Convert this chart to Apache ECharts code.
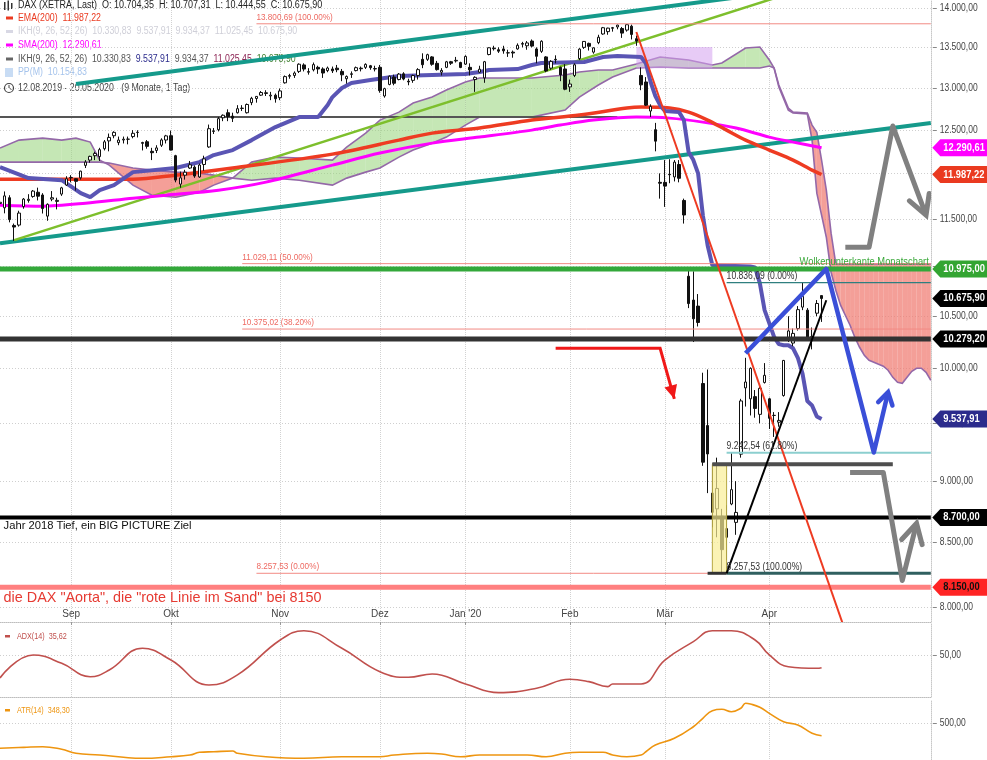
<!DOCTYPE html>
<html><head><meta charset="utf-8">
<script src="https://cdn.jsdelivr.net/npm/echarts@6/dist/echarts.min.js"></script>
<style>html,body{margin:0;padding:0;background:#fff}#c{width:987px;height:760px}</style>
</head><body><div id="c"></div>
<script>
const FONT = '"Liberation Sans", Arial, Helvetica, sans-serif';

// ---------- categories (XETRA trading days) ----------
const holidays = ['2019-12-24','2019-12-25','2019-12-26','2019-12-31','2020-01-01','2020-04-10','2020-04-13','2020-05-01'];
const dates = [];
for (let t = Date.UTC(2019,7,12); t <= Date.UTC(2020,4,22); t += 864e5) {
  const d = new Date(t), wd = d.getUTCDay(), s = d.toISOString().slice(0,10);
  if (wd === 0 || wd === 6 || holidays.includes(s)) continue;
  dates.push(s);
}
const X = s => dates.indexOf(s);
const monthTicks = {'2019-09-02':'Sep','2019-10-01':'Okt','2019-11-01':'Nov','2019-12-02':'Dez','2020-01-02':"Jan '20",'2020-02-03':'Feb','2020-03-02':'Mär','2020-04-01':'Apr'};
const priceTicks = [8000,8500,9000,9500,10000,10500,11000,11500,12000,12500,13000,13500,14000];
const adxTicks = [50];
const atrTicks = [500];

// ---------- DAX daily OHLC [open, high, low, close] from 2019-08-12 ----------
const ohlc = [
[11667,11704,11618,11680],[11620,11799,11560,11750],[11730,11757,11463,11493],[11430,11450,11266,11413],[11434,11588,11418,11563],
[11633,11727,11610,11715],[11700,11769,11676,11713],[11744,11815,11730,11803],[11790,11841,11700,11747],[11760,11780,11558,11612],
[11530,11668,11480,11658],[11715,11803,11692,11730],[11690,11730,11603,11701],[11770,11850,11750,11839],[11870,11968,11860,11939],
[11950,11980,11900,11954],[11940,11945,11809,11911],[11950,12030,11930,12025],[12090,12150,12060,12127],[12150,12200,12120,12192],
[12200,12245,12150,12226],[12190,12290,12140,12269],[12280,12380,12260,12359],[12370,12455,12250,12410],[12430,12482,12400,12469],
[12350,12420,12320,12380],[12380,12420,12340,12390],[12390,12420,12330,12389],[12420,12495,12400,12458],[12470,12494,12410,12468],
[12350,12360,12260,12342],[12360,12380,12280,12307],[12250,12290,12150,12234],[12260,12320,12230,12289],[12320,12400,12300,12381],
[12380,12440,12340,12428],
[12430,12490,12260,12264],[12200,12210,11900,11925],[11880,12020,11840,11950],[11980,12040,11930,12013],
[12060,12140,12050,12097],[12070,12090,11950,11970],[11960,12110,11950,12094],[12100,12200,12030,12164],[12300,12560,12290,12512],
[12480,12520,12450,12487],[12500,12650,12480,12630],[12640,12680,12600,12670],[12700,12740,12600,12655],[12660,12700,12590,12634],
[12700,12790,12690,12748],[12750,12790,12720,12755],[12700,12810,12690,12798],[12820,12890,12790,12872],[12870,12900,12820,12895],
[12910,12960,12900,12942],[12930,12970,12900,12940],[12900,12950,12850,12910],[12910,12930,12820,12867],
[12880,12990,12850,12961],
[13060,13150,13050,13136],[13140,13170,13110,13149],[13150,13200,13120,13180],[13200,13300,13180,13289],[13280,13300,13200,13229],
[13190,13240,13160,13198],[13220,13310,13200,13284],[13250,13270,13170,13230],[13230,13250,13120,13180],[13210,13260,13190,13242],
[13230,13260,13180,13207],[13240,13280,13190,13221],[13200,13230,13080,13158],[13110,13150,13050,13138],[13170,13200,13120,13164],
[13210,13260,13200,13246],[13240,13260,13200,13233],[13250,13300,13230,13287],[13270,13280,13220,13246],[13230,13270,13200,13236],
[13250,13280,12940,12965],[12900,13000,12880,12989],[13040,13150,13030,13141],[13130,13160,13030,13055],[13100,13180,13090,13167],
[13170,13190,13090,13106],[13080,13110,13030,13071],[13090,13160,13060,13149],[13150,13240,13100,13222],[13350,13425,13240,13283],
[13350,13420,13330,13408],[13380,13390,13270,13288],[13300,13330,13210,13222],[13190,13240,13150,13212],[13250,13330,13240,13319],
[13320,13330,13280,13301],[13330,13380,13310,13337],[13310,13320,13240,13249],
[13290,13400,13280,13386],[13250,13300,13150,13219],
[13100,13140,12950,13127],[13190,13270,13180,13227],[13120,13330,13060,13320],[13410,13500,13400,13495],[13490,13520,13460,13483],
[13470,13500,13430,13452],[13480,13520,13420,13456],[13430,13470,13380,13432],[13440,13460,13370,13429],[13480,13550,13470,13526],
[13540,13570,13500,13549],[13520,13580,13470,13556],[13580,13600,13500,13516],[13480,13500,13300,13388],[13450,13590,13430,13577],
[13380,13390,13190,13205],[13240,13340,13220,13324],[13350,13400,13300,13345],[13250,13260,13080,13157],[13230,13290,12970,12982],
[13010,13100,12950,13045],[13150,13300,13130,13282],[13360,13490,13340,13478],[13500,13580,13480,13575],[13550,13560,13460,13514],
[13440,13500,13420,13494],[13560,13660,13540,13628],[13670,13760,13660,13750],[13700,13750,13660,13745],[13750,13760,13700,13744],
[13760,13790,13730,13784],[13740,13760,13620,13681],[13720,13795,13700,13789],[13770,13790,13600,13664],[13610,13650,13520,13579],
[13150,13250,12970,13035],[13070,13130,12780,12790],[12720,12800,12650,12775],[12500,12580,12250,12367],[11900,12000,11720,11890],
[11900,12150,11630,11858],[11990,12160,11890,11985],[11960,12150,11910,12127],[12100,12150,11900,11945],[11700,11720,11450,11542],
[10900,10990,10580,10625],[10660,10950,10250,10475],[10600,10720,10400,10439],[9860,9960,9130,9161],[9480,9990,8900,9232],
[8900,9150,8620,8742],[8770,9200,8540,8939],[8710,8770,8256,8442],[8540,8800,8360,8610],[8810,9240,8800,8929],
[8660,9000,8560,8741],[9230,9720,9200,9701],[9820,10100,9650,9874],[9720,10010,9570,10001],[9740,9800,9550,9633],
[9580,9830,9500,9816],[9870,10050,9860,9936],
[9720,9730,9450,9545],[9570,9600,9380,9571],[9510,9600,9470,9526],[9750,10080,9740,10075],
[10270,10500,10250,10357],[10240,10380,10210,10333],[10380,10600,10360,10565],[10590,10836,10560,10697],[10560,10580,10270,10280],
[10270,10390,10180,10302],[10530,10660,10500,10626],[10704.35,10707.31,10444.55,10675.90]
];

// ---------- indicators ----------
const ema200 = [['2019-08-12',11935],['2019-09-19',11935],['2019-10-02',11980],['2019-10-18',12060],['2019-11-18',12218],['2019-12-06',12379],
['2019-12-17',12460],['2020-01-07',12519],['2020-01-22',12613],['2020-02-05',12672],['2020-02-19',12755],['2020-02-24',12767],['2020-03-03',12755],
['2020-03-09',12707],['2020-03-13',12613],['2020-03-19',12495],['2020-03-25',12379],['2020-04-01',12264],['2020-04-08',12150],['2020-04-16',12037],['2020-04-20',11987.22]];
const sma200 = [['2019-08-12',11649],['2019-08-23',11638],['2019-09-05',11670],['2019-09-19',11725],['2019-09-30',11758],['2019-10-15',11813],
['2019-10-29',11902],['2019-11-18',12093],['2019-12-02',12230],['2019-12-17',12344],['2020-01-07',12414],['2020-01-22',12495],['2020-01-30',12554],
['2020-02-10',12613],['2020-02-21',12648],['2020-03-03',12636],['2020-03-12',12589],['2020-03-23',12519],['2020-04-01',12414],['2020-04-08',12356],['2020-04-20',12290.61]];
const kijun = [['2019-08-12',12070],['2019-08-20',11947],['2019-08-29',11924],['2019-09-04',11780],['2019-09-06',11736],['2019-09-10',11813],
['2019-09-13',11869],['2019-09-19',12014],['2019-10-02',12060],['2019-10-09',12127],['2019-10-14',12207],['2019-10-18',12264],['2019-10-24',12379],
['2019-10-31',12531],['2019-11-07',12648],['2019-11-13',12648],['2019-11-15',12791],['2019-11-18',12887],['2019-11-20',12997],['2019-11-22',13058],
['2019-11-28',13094],['2019-12-06',13143],['2019-12-17',13155],['2020-01-02',13167],['2020-01-07',13192],['2020-01-09',13217],['2020-01-17',13229],
['2020-01-22',13279],['2020-01-24',13304],['2020-02-06',13316],['2020-02-12',13379],['2020-02-17',13391],['2020-02-24',13379],['2020-02-25',13300],
['2020-02-26',13070],['2020-02-27',12900],['2020-02-28',12790],['2020-03-02',12720],['2020-03-05',12707],['2020-03-06',12613],['2020-03-09',12241],
['2020-03-10',12150],['2020-03-11',12000],['2020-03-12',11540],['2020-03-13',11221],['2020-03-16',11013],['2020-03-26',11000],['2020-03-27',10990],
['2020-03-30',10830],['2020-03-31',10560],['2020-04-01',10430],['2020-04-02',10300],['2020-04-03',10230],['2020-04-06',10219],['2020-04-07',10219],
['2020-04-08',10190],['2020-04-09',10100],['2020-04-14',9950],['2020-04-15',9700],['2020-04-16',9660],['2020-04-17',9560],['2020-04-20',9537.91]];
// Ichimoku cloud: [date, Senkou A, Senkou B]
const cloud = [['2019-08-12',12287,12127],['2019-08-16',12379,12127],['2019-08-23',12402,12127],['2019-08-29',12379,12127],['2019-09-03',12402,12127],
['2019-09-06',12356,12127],['2019-09-10',12150,12127],['2019-09-12',12093,12116],['2019-09-19',11869,12060],['2019-09-25',11758,12037],
['2019-10-02',11736,12014],['2019-10-09',11791,12003],['2019-10-14',11869,11980],['2019-10-18',11947,11947],['2019-10-24',12127,11924],
['2019-10-31',12184,11947],['2019-11-07',12173,11924],['2019-11-18',12150,11869],['2019-11-21',12298,11947],['2019-11-27',12460,12014],
['2019-12-02',12613,12060],['2019-12-06',12707,12184],['2019-12-11',12815,12264],['2019-12-17',12887,12344],['2019-12-20',12972,12414],
['2020-01-02',13070,12554],['2020-01-07',13118,12648],['2020-01-22',13118,12648],['2020-01-31',13155,12731],['2020-02-05',13192,12887],
['2020-02-11',13217,13033],['2020-02-14',13217,13130],['2020-02-21',13291,13242],['2020-02-28',13379,13254],['2020-03-09',13341,13242],
['2020-03-16',13279,13242],['2020-03-18',13304,13242],['2020-03-25',13492,13242],['2020-03-30',13505,13242],['2020-04-01',13341,13266],
['2020-04-02',13242,13242],['2020-04-03',13009,13033],['2020-04-07',12731,12755],['2020-04-08',12696,12707],['2020-04-15',12684,12696],
['2020-04-16',12379,12554],['2020-04-17',11780,12471],['2020-04-20',11540,12150],['2020-04-21',11305,11813],['2020-04-22',10941,11348],
['2020-04-23',10758,11025.45],['2020-04-24',10609,11025.45],['2020-04-27',10510,11025.45],['2020-04-28',10412,11025.45],['2020-04-29',10296,11025.45],
['2020-04-30',10200,11025.45],['2020-05-04',10124,11025.45],['2020-05-05',10077,11025.45],['2020-05-06',10058,11025.45],['2020-05-07',10040,11025.45],
['2020-05-08',10021,11025.45],['2020-05-11',9983,11025.45],['2020-05-12',9917,11025.45],['2020-05-13',9871,11025.45],['2020-05-14',9862,11025.45],
['2020-05-15',9917,11025.45],['2020-05-18',9973,11025.45],['2020-05-19',10002,11025.45],['2020-05-20',10002,11025.45],['2020-05-21',9964,11025.45],['2020-05-22',9890,11025.45]];
const adx = [['2019-08-12',24.0],['2019-08-21',50],['2019-08-29',40.6],['2019-09-06',25.4],['2019-09-12',33.0],['2019-09-23',57.6],['2019-10-01',44.3],
['2019-10-11',16.0],['2019-10-21',27.4],['2019-11-01',67.0],['2019-11-08',77.5],['2019-11-20',57.6],['2019-12-02',31.1],['2019-12-10',24.7],
['2019-12-17',28.5],['2020-01-02',17.2],['2020-01-13',7.3],['2020-01-23',12.3],['2020-02-03',22.5],['2020-02-07',19.8],['2020-02-13',14.1],
['2020-02-14',17.2],['2020-02-24',17.2],['2020-03-02',44.3],['2020-03-10',65.1],['2020-03-16',77.5],['2020-03-20',77.5],['2020-03-27',67.0],
['2020-04-01',50],['2020-04-07',36.7],['2020-04-17',34.9],['2020-04-20',35.62]];
const atr = [['2019-08-12',194],['2019-08-19',206],['2019-08-23',214],['2019-08-29',182],['2019-09-03',133],['2019-09-10',112],['2019-09-18',79],
['2019-09-23',72],['2019-10-01',91],['2019-10-07',112],['2019-10-09',145],['2019-10-14',152],['2019-10-18',161],['2019-10-21',133],['2019-10-29',91],
['2019-11-08',72],['2019-11-20',91],['2019-12-02',91],['2019-12-05',112],['2019-12-16',133],['2019-12-19',124],['2019-12-30',91],['2020-01-07',112],
['2020-01-14',112],['2020-01-21',112],['2020-01-27',91],['2020-01-31',133],['2020-02-05',145],['2020-02-12',145],['2020-02-14',112],['2020-02-19',91],
['2020-02-24',112],['2020-02-25',152],['2020-02-27',234],['2020-03-04',316],['2020-03-10',458],['2020-03-12',561],['2020-03-16',654],['2020-03-18',671],
['2020-03-20',642],['2020-03-24',684],['2020-03-25',745],['2020-03-26',736],['2020-03-30',696],['2020-04-01',622],['2020-04-06',520],['2020-04-09',479],
['2020-04-16',378],['2020-04-20',348.3]];

// ---------- drawn levels / annotations ----------
const fibA = [[13800.69,'100.00%','2019-10-25'],[11029.11,'50.00%','2019-10-22'],[10375.02,'38.20%','2019-10-22'],[8257.53,'0.00%','2019-10-25']];
const fibB = [[10836.09,'0.00%'],[9242.54,'61.80%'],[8257.53,'100.00%']];
const fibBStart = '2020-03-19';
const lvlCloudMonth = 10975, lvlSupport = 10279.2, lvl2018 = 8700, lvlAorta = 8150, lvlOld = 12648, lvlBox = 9143;
const tealUpper = [['2019-09-03',13045],['2020-05-22',14486]];
const tealLower = [['2019-08-12',11242],['2020-05-22',12578]];
const greenTrend = [['2019-08-15',11274],['2020-05-22',14808]];
const redTrend = [['2020-02-21',13695],['2020-04-27',7823]];
const blackTrend = [['2020-03-19',8257.53],['2020-04-21',10658]];
const blueArrow = [['2020-03-25',10143],['2020-04-21',10975],['2020-05-06',9244],['2020-05-11',9780]];
const grayArrowUp = [['2020-04-27',11200],['2020-05-05',11200],['2020-05-12',12543],['2020-05-21',11540]];
const grayArrowDn = [['2020-04-28',9074],['2020-05-08',9074],['2020-05-14',8202],['2020-05-19',8652]];
const redArrow = [['2020-01-29',10190],['2020-02-28',10190],['2020-03-04',9720]];
const tags = [[12290.61,'#ff00ff','#fff'],[11987.22,'#ea3a20','#fff'],[10975,'#33a532','#fff'],[10675.90,'#000','#fff'],
[10279.20,'#000','#fff'],[9537.91,'#2b2b8c','#fff'],[8700,'#000','#fff'],[8150,'#ff2424','#111']];

// ---------- helpers ----------
function de(v){ const [a,b] = v.toFixed(2).split('.'); return a.replace(/\B(?=(\d{3})+(?!\d))/g,'.') + ',' + b; }
const isMonth = (i, v) => monthTicks[v] !== undefined;

function poly(pts, color, width, o){
  o = o || {};
  const P = pts.map(p => [X(p[0]), p[1]]);
  return {type:'custom', xAxisIndex:0, yAxisIndex:0, silent:true, clip:o.clip !== false, z:o.z || 5,
    data:P, encode:{x:0, y:1},
    renderItem(params, api){
      if (params.dataIndex !== 0) return null;
      const C = P.map(p => api.coord(p));
      const ch = [{type:'polyline', shape:{points:C}, style:{stroke:color, lineWidth:width, fill:null, lineJoin:o.join || 'round', lineCap:'butt'}}];
      if (o.arrow){
        const a = C[C.length-2], b = C[C.length-1];
        const ang = Math.atan2(b[1]-a[1], b[0]-a[0]);
        const L = o.alen || 16, s = o.aspread || 0.5;
        const w1 = [b[0]-L*Math.cos(ang-s), b[1]-L*Math.sin(ang-s)];
        const w2 = [b[0]-L*Math.cos(ang+s), b[1]-L*Math.sin(ang+s)];
        if (o.arrow === 'filled') ch.push({type:'polygon', shape:{points:[w1,b,w2]}, style:{fill:color}});
        else ch.push({type:'polyline', shape:{points:[w1,b,w2]}, style:{stroke:color, lineWidth:width, fill:null, lineJoin:'miter', lineCap:'round'}});
      }
      return {type:'group', children:ch};
    }};
}
function label(d, p, text, o){
  const pt = [X(d), p];
  return {type:'custom', xAxisIndex:0, yAxisIndex:0, silent:true, clip:false, z:o.z || 7, data:[pt], encode:{x:0, y:1},
    renderItem(params, api){
      const c = api.coord(pt);
      return {type:'text', x:c[0]+(o.dx||0), y:c[1]+(o.dy||0), scaleX:o.sx || 1,
        style:{text, fill:o.color || '#333', font:o.font, align:o.align || 'left', verticalAlign:o.va || 'middle'}};
    }};
}
function rect(d0, d1, p0, p1, fill, stroke, z){
  const a = [X(d0), p0], b = [X(d1), p1];
  return {type:'custom', xAxisIndex:0, yAxisIndex:0, silent:true, clip:true, z:z || 5, data:[a,b], encode:{x:0, y:1},
    renderItem(params, api){
      if (params.dataIndex !== 0) return null;
      const A = api.coord(a), B = api.coord(b);
      return {type:'rect', shape:{x:Math.min(A[0],B[0]), y:Math.min(A[1],B[1]), width:Math.abs(B[0]-A[0]), height:Math.abs(B[1]-A[1])},
        style:{fill, stroke:stroke || null, lineWidth:1}};
    }};
}
function ticks(ai, values){
  return {type:'custom', xAxisIndex:ai, yAxisIndex:ai, silent:true, clip:false, z:1,
    data:values.map(v => [0, v]), encode:{x:0, y:1},
    renderItem(params, api){
      const cs = params.coordSys, v = api.value(1);
      const y = Math.round(api.coord([0, v])[1]) + 0.5, r = cs.x + cs.width;
      return {type:'group', children:[
        {type:'line', shape:{x1:cs.x, y1:y, x2:r, y2:y}, style:{stroke:'#cfcfcf', lineWidth:1, lineDash:[1,2]}},
        {type:'line', shape:{x1:r+2, y1:y, x2:r+6, y2:y}, style:{stroke:'#888', lineWidth:1}},
        {type:'text', x:r+9, y:y, scaleX:0.85, style:{text:de(v), fill:'#444', font:'10px '+FONT, align:'left', verticalAlign:'middle'}}
      ]};
    }};
}

// ---------- series ----------
const series = [];
series.push(ticks(0, priceTicks), ticks(1, adxTicks), ticks(2, atrTicks));

// cloud
const cloudPts = cloud.map(c => [X(c[0]), c[1], c[2]]);
series.push({type:'custom', xAxisIndex:0, yAxisIndex:0, silent:true, clip:true, z:2, data:cloudPts, encode:{x:0, y:[1,2]},
  renderItem(params, api){
    if (params.dataIndex !== 0) return null;
    const A = cloudPts.map(c => api.coord([c[0], c[1]])), B = cloudPts.map(c => api.coord([c[0], c[2]]));
    const G = 'rgba(150,212,120,0.55)', R = 'rgba(240,118,108,0.7)';
    const ch = [];
    for (let k = 0; k < A.length-1; k++){
      const d0 = B[k][1]-A[k][1], d1 = B[k+1][1]-A[k+1][1];
      if (d0*d1 < 0){
        const t = d0/(d0-d1);
        const m = [A[k][0]+(A[k+1][0]-A[k][0])*t, A[k][1]+(A[k+1][1]-A[k][1])*t];
        ch.push({type:'polygon', shape:{points:[A[k], m, B[k]]}, style:{fill:d0 > 0 ? G : R}});
        ch.push({type:'polygon', shape:{points:[m, A[k+1], B[k+1]]}, style:{fill:d1 > 0 ? G : R}});
      } else if (d0 !== 0 || d1 !== 0){
        ch.push({type:'polygon', shape:{points:[A[k], A[k+1], B[k+1], B[k]]}, style:{fill:(d0+d1) > 0 ? G : R}});
      }
    }
    ch.push({type:'polyline', shape:{points:A}, style:{stroke:'#9468a8', lineWidth:1.6, fill:null}});
    ch.push({type:'polyline', shape:{points:B}, style:{stroke:'#9468a8', lineWidth:1.6, fill:null}});
    return {type:'group', children:ch};
  }});

// lavender box and thin old line
series.push(rect('2020-02-21','2020-03-16',13240,13505,'rgba(212,160,238,0.55)',null,3));
series.push(poly([['2019-08-12',lvlOld],['2020-02-17',lvlOld]], '#555', 2, {z:3}));

// moving averages and kijun
const lineS = (arr, color, width, smooth, z) => ({type:'line', xAxisIndex:0, yAxisIndex:0, data:arr.map(a => [X(a[0]), a[1]]),
  symbol:'none', smooth:smooth, silent:true, z:z, lineStyle:{color, width}});
series.push(lineS(sma200, '#ff00ff', 3, 0.3, 3));
series.push(lineS(ema200, '#ee3b22', 3.5, 0.3, 3));
series.push(lineS(kijun, '#5a55b4', 4, false, 3));

// trendlines
series.push(poly(tealUpper, '#159a8b', 4, {z:3}));
series.push(poly(tealLower, '#159a8b', 4, {z:3}));
series.push(poly(greenTrend, '#7dbf2c', 2.5, {z:3}));

// candles
series.push({type:'candlestick', xAxisIndex:0, yAxisIndex:0, z:4, silent:true, barWidth:3,
  data:ohlc.map(r => [r[0], r[3], r[2], r[1]]),
  itemStyle:{color:'#ffffff', color0:'#111111', borderColor:'#111111', borderColor0:'#111111', borderWidth:1}});

// horizontal levels
const full = p => [[dates[0], p], [dates[dates.length-1], p]];
series.push(poly(full(lvlCloudMonth), '#33a83a', 5, {z:5}));
series.push(poly(full(lvlSupport), '#333333', 5, {z:5}));
series.push(poly(full(lvl2018), '#000000', 4, {z:5}));
series.push(poly(full(lvlAorta), '#ff8080', 5, {z:5}));

// fibonacci set A
fibA.forEach(f => {
  series.push(poly([[f[2], f[0]], [dates[dates.length-1], f[0]]], '#f28a84', 1, {z:5}));
  series.push(label(f[2], f[0], de(f[0]) + ' (' + f[1] + ')', {dy:-6.5, color:'#ee6a62', font:'9.5px '+FONT, sx:0.86}));
});
// box
series.push(rect('2020-03-16','2020-03-19',8257.53,lvlBox,'rgba(250,238,150,0.7)','#b7a843',5));
series.push(poly([['2020-03-16',lvlBox],['2020-05-12',lvlBox]], '#4e4e4e', 4, {z:5}));
series.push(poly([['2020-03-13',8257.53],[fibBStart,8257.53]], '#333', 3, {z:5}));
// fibonacci set B
const fibBStyle = [['#2f7f7f',1.2],['#8ccfcf',2],['#2f5f5f',3]];
fibB.forEach((f, k) => {
  series.push(poly([[fibBStart, f[0]], [dates[dates.length-1], f[0]]], fibBStyle[k][0], fibBStyle[k][1], {z:5}));
  series.push(label(fibBStart, f[0], de(f[0]) + ' (' + f[1] + ')', {dy:-6.5, color:'#333', font:'10px '+FONT, sx:0.86}));
});

// red trend & black trend
series.push(poly(redTrend, '#ee3b22', 2, {z:6}));
series.push(poly(blackTrend, '#000', 2, {z:6}));
// arrows
series.push(poly(redArrow, '#f01818', 3, {z:6, arrow:'filled', alen:15, aspread:0.45, join:'miter'}));
series.push(poly(blueArrow, '#3a4fd8', 4.5, {z:6, arrow:'open', alen:14, aspread:0.55}));
series.push(poly(grayArrowUp, '#808080', 5, {z:6, arrow:'open', alen:22, aspread:0.5}));
series.push(poly(grayArrowDn, '#808080', 5, {z:6, arrow:'open', alen:22, aspread:0.5}));

// annotation texts
series.push(label(dates[dates.length-1], lvlCloudMonth, 'Wolkenunterkante Monatschart', {dx:-2, dy:-6.5, align:'right', color:'#3aa83a', font:'11px '+FONT, sx:0.85}));
series.push(label(dates[0], lvl2018, 'Jahr 2018 Tief, ein BIG PICTURE Ziel', {dx:3.6, dy:2.5, va:'top', color:'#111', font:'11.2px '+FONT}));
series.push(label(dates[0], lvlAorta, 'die DAX "Aorta", die "rote Linie im Sand" bei 8150', {dx:3.6, dy:3.5, va:'top', color:'#e63a32', font:'14.4px '+FONT}));

// price tags
series.push({type:'custom', xAxisIndex:0, yAxisIndex:0, silent:true, clip:false, z:9,
  data:tags.map(t => [0, t[0]]), encode:{x:0, y:1},
  renderItem(params, api){
    const t = tags[params.dataIndex], cs = params.coordSys;
    const y = api.coord([0, t[0]])[1], x0 = cs.x + cs.width + 1.5, h = 8.5;
    return {type:'group', children:[
      {type:'polygon', shape:{points:[[x0,y],[x0+8,y-h],[990,y-h],[990,y+h],[x0+8,y+h]]}, style:{fill:t[1]}},
      {type:'text', x:x0+11, y:y, scaleX:0.85, style:{text:de(t[0]), fill:t[2], font:'bold 11px '+FONT, align:'left', verticalAlign:'middle'}}
    ]};
  }});

// ADX / ATR
series.push({type:'line', xAxisIndex:1, yAxisIndex:1, data:adx.map(a => [X(a[0]), a[1]]), symbol:'none', smooth:0.45, silent:true, lineStyle:{color:'#c0504d', width:1.6}});
series.push({type:'line', xAxisIndex:2, yAxisIndex:2, data:atr.map(a => [X(a[0]), a[1]]), symbol:'none', smooth:0.45, silent:true, lineStyle:{color:'#ee9510', width:1.6}});

// ---------- legend (texts) ----------
const lf = '10px ' + FONT;
const txt = (x, y, text, fill, sx, font) => ({type:'text', x, y, scaleX:sx || 0.88, silent:true, style:{text, fill, font:font || lf, verticalAlign:'middle'}});
const ry = (c) => ({fill:c, font:lf});
const graphic = [
  {type:'rect', shape:{x:4, y:2, width:1.5, height:8}, style:{fill:'#333'}},
  {type:'rect', shape:{x:7.5, y:0.5, width:1.5, height:10}, style:{fill:'#333'}},
  {type:'rect', shape:{x:11, y:3, width:1.5, height:6}, style:{fill:'#333'}},
  txt(18, 5.5, 'DAX (XETRA, Last)  O: 10.704,35  H: 10.707,31  L: 10.444,55  C: 10.675,90', '#222', 0.9),
  {type:'rect', shape:{x:6, y:16.5, width:7, height:3}, style:{fill:'#ea3a20'}},
  txt(18, 18, 'EMA(200)  11.987,22', '#ea3a20'),
  {type:'rect', shape:{x:6, y:30, width:7, height:3}, style:{fill:'#d8d8e4'}},
  txt(18, 31.5, 'IKH(9, 26, 52, 26)  10.330,83  9.537,91  9.934,37  11.025,45  10.675,90', '#cfcfd8'),
  {type:'rect', shape:{x:6, y:43.5, width:7, height:3}, style:{fill:'#ff00ff'}},
  txt(18, 45, 'SMA(200)  12.290,61', '#ff00ff'),
  {type:'rect', shape:{x:6, y:57.5, width:7, height:3}, style:{fill:'#666'}},
  {type:'text', x:18, y:59, scaleX:0.875, silent:true, style:{text:'{a|IKH(9, 26, 52, 26)  10.330,83}  {b|9.537,91}  {a|9.934,37}  {c|11.025,45}  {d|10.675,90}',
    verticalAlign:'middle', font:lf, rich:{a:ry('#555'), b:ry('#2b2b8c'), c:ry('#8b2252'), d:ry('#3f7f2f')}}},
  {type:'rect', shape:{x:5, y:68, width:8, height:9}, style:{fill:'#c8dcf4'}},
  txt(18, 72.5, 'PP(M)  10.154,83', '#a6c4ec'),
  {type:'circle', shape:{cx:9, cy:88, r:4.5}, style:{fill:'#fff', stroke:'#444', lineWidth:1.2}},
  {type:'polyline', shape:{points:[[9,85],[9,88],[11.5,89.5]]}, style:{stroke:'#444', lineWidth:1, fill:null}},
  txt(18, 88, '12.08.2019 - 20.05.2020   (9 Monate, 1 Tag)', '#444'),
  {type:'rect', shape:{x:5, y:635, width:5, height:2.5}, style:{fill:'#c0504d'}},
  txt(17, 636.5, 'ADX(14)  35,62', '#c0504d', 0.85, '8.5px ' + FONT),
  {type:'rect', shape:{x:5, y:709, width:5, height:2.5}, style:{fill:'#ee9510'}},
  txt(17, 710.5, 'ATR(14)  348,30', '#ee9510', 0.85, '8.5px ' + FONT)
];

// ---------- axes ----------
const gl = -0.6, gr = 56.2;
const xAx = g => ({type:'category', gridIndex:g, data:dates, boundaryGap:false,
  axisLine:{show:true, lineStyle:{color:'#bdbdbd', type:'dotted'}},
  axisTick:{show:g === 0, interval:isMonth, length:3, lineStyle:{color:'#999'}},
  axisLabel:{show:g === 0, inside:true, interval:isMonth, formatter:v => monthTicks[v] || '', fontSize:10, fontFamily:FONT, color:'#444', margin:3},
  splitLine:{show:true, interval:isMonth, lineStyle:{color:'#d2d2d2', type:'dotted', width:1}}});
const yCommon = {position:'right', axisLine:{show:true, lineStyle:{color:'#c8c8c8', type:'dotted'}}, axisTick:{show:false}, axisLabel:{show:false}, splitLine:{show:false}};

const option = {
  animation:false, backgroundColor:'#ffffff',
  grid:[{left:gl, right:gr, top:0, height:622}, {left:gl, right:gr, top:624, height:73}, {left:gl, right:gr, top:700, height:60}],
  xAxis:[xAx(0), xAx(1), xAx(2)],
  yAxis:[Object.assign({type:'log', logBase:10, gridIndex:0, min:7890, max:14111}, yCommon),
         Object.assign({type:'value', gridIndex:1, min:2.4, max:85.1}, yCommon),
         Object.assign({type:'value', gridIndex:2, min:51, max:785}, yCommon)],
  graphic:graphic,
  series:series
};
const chart = echarts.init(document.getElementById('c'));
chart.setOption(option);
</script></body></html>
